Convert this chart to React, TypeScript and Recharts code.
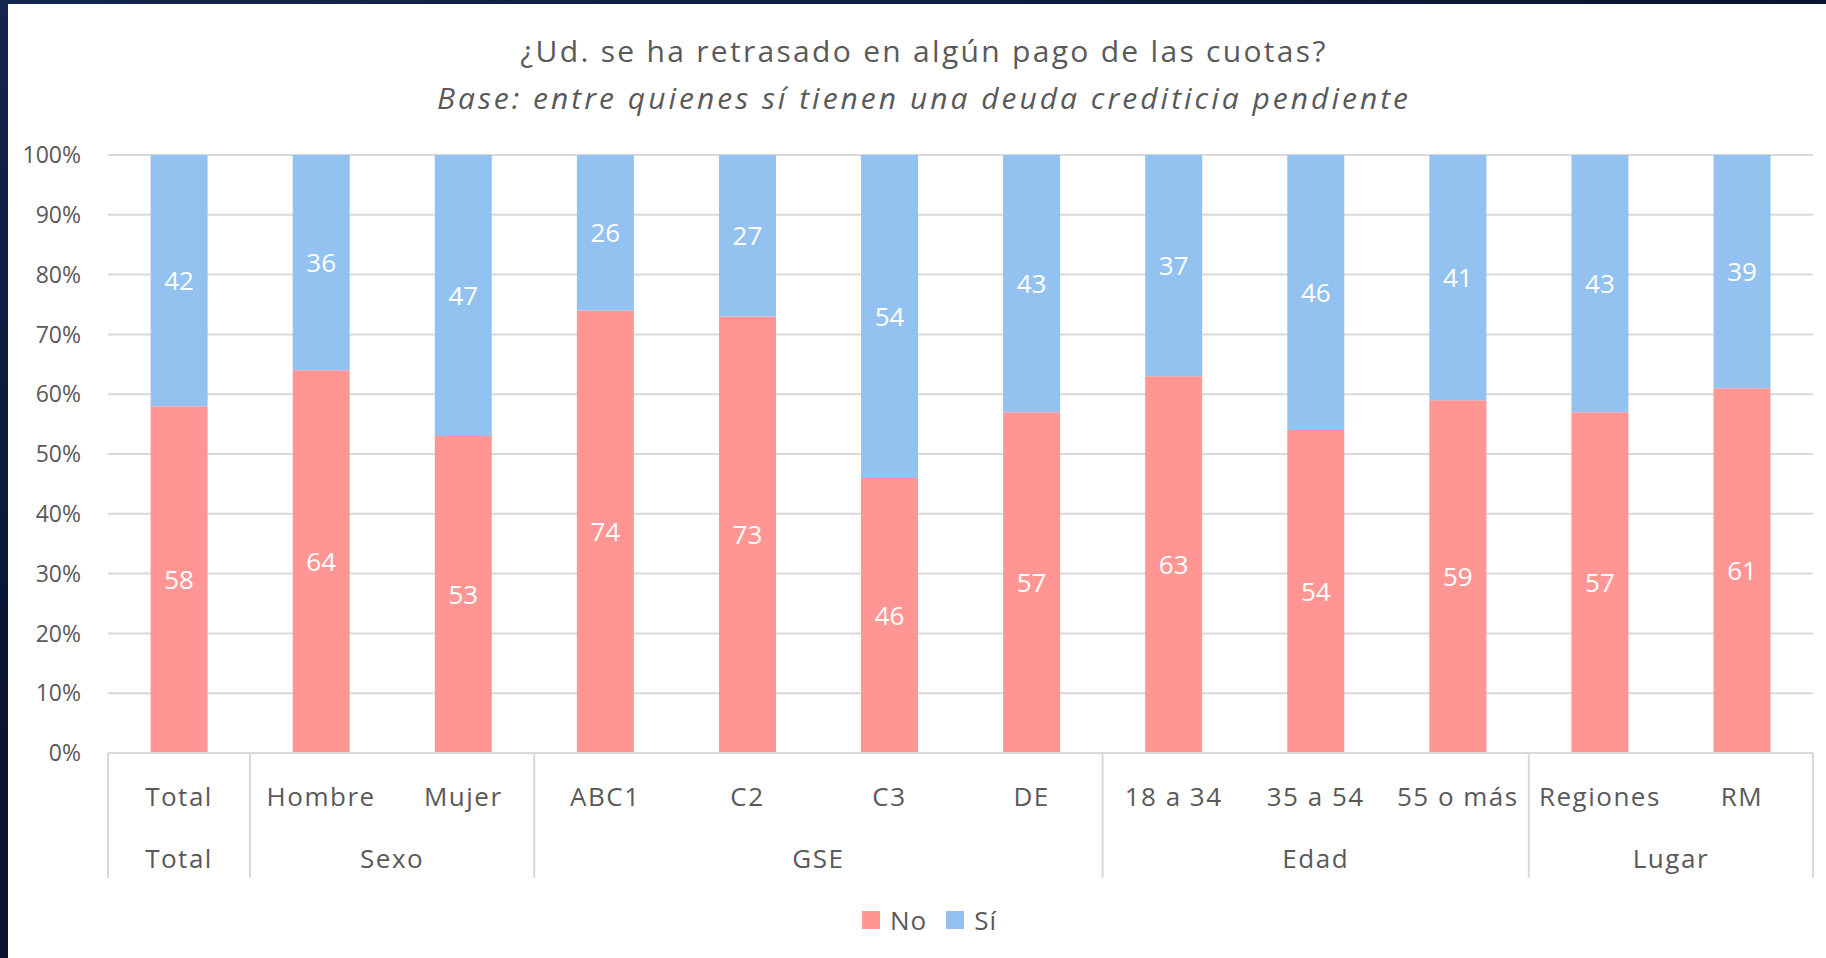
import React from 'react';
import { BarChart, Bar, XAxis, YAxis, CartesianGrid, Legend, LabelList } from 'recharts';

const categories = ['Total', 'Hombre', 'Mujer', 'ABC1', 'C2', 'C3', 'DE', '18 a 34', '35 a 54', '55 o más', 'Regiones', 'RM'];
const groups = ['Total', 'Sexo', 'Sexo', 'GSE', 'GSE', 'GSE', 'GSE', 'Edad', 'Edad', 'Edad', 'Lugar', 'Lugar'];
const noValues = [58, 64, 53, 74, 73, 46, 57, 63, 54, 59, 57, 61];
const siValues = [42, 36, 47, 26, 27, 54, 43, 37, 46, 41, 43, 39];
const yTicks = [0, 10, 20, 30, 40, 50, 60, 70, 80, 90, 100];

const title = '¿Ud. se ha retrasado en algún pago de las cuotas?';
const subtitle = 'Base: entre quienes sí tienen una deuda crediticia pendiente';

const data = categories.map((name, i) => ({
  name,
  group: groups[i],
  no: noValues[i],
  si: siValues[i],
}));

const W = 1826;
const H = 958;
const margin = { top: 155, right: 13, bottom: 75, left: 48 };
const yAxisWidth = 60;
const plotWidth = W - margin.left - margin.right - yAxisWidth;
const band = plotWidth / categories.length;

const FONT = "'Open Sans', 'Noto Sans', sans-serif";
const TEXT = '#595959';
const GRID = '#d9d9d9';

// category label + group label + divider lines under the axis
const CategoryTick = (props: any) => {
  const { x, y, payload, index } = props;
  const i = index ?? categories.indexOf(payload.value);
  const first = i === 0 || groups[i] !== groups[i - 1];
  const last = i === categories.length - 1;
  let span = 0;
  if (first) {
    while (i + span < groups.length && groups[i + span] === groups[i]) span++;
  }
  const textStyle = { letterSpacing: '1.5px' };
  return (
    <g>
      <text x={x} y={y + 43} textAnchor="middle" dominantBaseline="central" fill={TEXT} fontSize={26} fontFamily={FONT} style={textStyle}>
        {payload.value}
      </text>
      {first && (
        <>
          <line x1={x - band / 2} x2={x - band / 2} y1={y} y2={y + 125} stroke={GRID} strokeWidth={2} />
          <text x={x - band / 2 + (span * band) / 2} y={y + 105} textAnchor="middle" dominantBaseline="central" fill={TEXT} fontSize={26} fontFamily={FONT} style={textStyle}>
            {groups[i]}
          </text>
        </>
      )}
      {last && <line x1={x + band / 2} x2={x + band / 2} y1={y} y2={y + 125} stroke={GRID} strokeWidth={2} />}
    </g>
  );
};

const renderLegend = (props: any) => (
  <div style={{ display: 'flex', justifyContent: 'center', alignItems: 'center', gap: 19 }}>
    {(props.payload || []).map((p: any) => (
      <span key={p.value} style={{ display: 'flex', alignItems: 'center' }}>
        <span style={{ width: 18, height: 18, background: p.color, marginRight: 10, display: 'inline-block' }} />
        <span style={{ fontSize: 26, color: TEXT, fontFamily: FONT, lineHeight: '30px', letterSpacing: '1px' }}>{p.value}</span>
      </span>
    ))}
  </div>
);

export default function App() {
  return (
    <div
      style={{
        position: 'absolute',
        left: 0,
        top: 0,
        width: W,
        height: H,
        overflow: 'hidden',
        background: 'linear-gradient(160deg, #13264f 0%, #0a1533 40%, #050b1c 100%)',
        fontFamily: FONT,
      }}
    >
      <div style={{ position: 'absolute', left: 8, top: 4, right: 0, bottom: 0, background: '#ffffff' }} />
      <div style={{ position: 'absolute', left: 8, top: 32, width: 1832, textAlign: 'center', fontSize: 30, lineHeight: '38px', color: TEXT, letterSpacing: '2.3px' }}>
        {title}
      </div>
      <div style={{ position: 'absolute', left: 8, top: 79, width: 1832, textAlign: 'center', fontSize: 30, lineHeight: '38px', color: TEXT, fontStyle: 'italic', letterSpacing: '3px' }}>
        {subtitle}
      </div>
      <div style={{ position: 'absolute', left: 0, top: 0 }}>
        <BarChart width={W} height={H} data={data} margin={margin} barCategoryGap="30%">
          <CartesianGrid vertical={false} stroke={GRID} strokeWidth={2} />
          <XAxis
            dataKey="name"
            interval={0}
            height={130}
            tickLine={false}
            tickSize={0}
            tickMargin={0}
            axisLine={{ stroke: GRID, strokeWidth: 2 }}
            tick={<CategoryTick />}
          />
          <YAxis
            width={yAxisWidth}
            domain={[0, 100]}
            ticks={yTicks}
            tickFormatter={(v: number) => `${v}%`}
            axisLine={false}
            tickLine={false}
            tickSize={0}
            tickMargin={27}
            tick={{ fill: TEXT, fontSize: 23, fontFamily: FONT }}
          />
          <Legend
            layout="horizontal"
            verticalAlign="middle"
            align="center"
            content={renderLegend}
            wrapperStyle={{ top: 905, left: 33, width: 1793 }}
          />
          <Bar dataKey="no" name="No" stackId="a" fill="#ff9694" isAnimationActive={false}>
            <LabelList dataKey="no" position="center" fill="#ffffff" fontSize={26} fontFamily={FONT} />
          </Bar>
          <Bar dataKey="si" name="Sí" stackId="a" fill="#93c2f0" isAnimationActive={false}>
            <LabelList dataKey="si" position="center" fill="#ffffff" fontSize={26} fontFamily={FONT} />
          </Bar>
        </BarChart>
      </div>
    </div>
  );
}
